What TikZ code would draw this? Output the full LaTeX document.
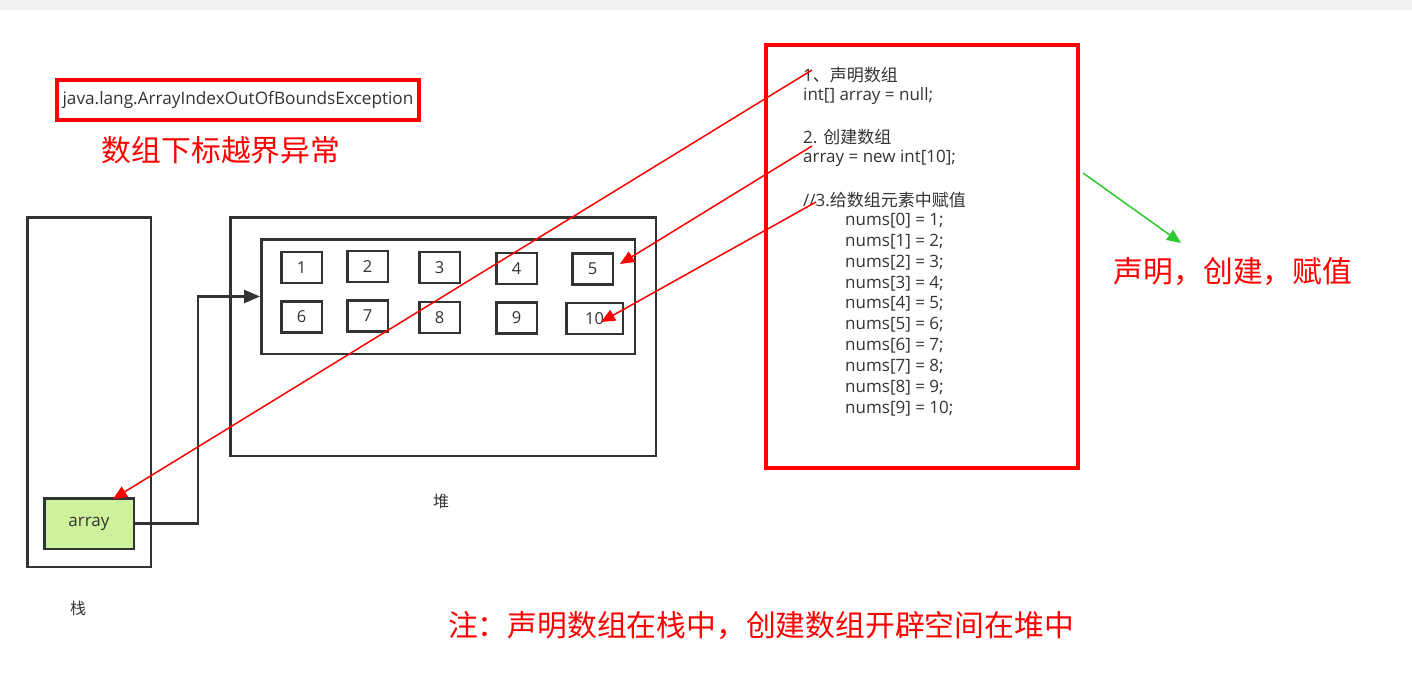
\documentclass[tikz,border=0pt]{standalone}
\usepackage{fontspec}
\setmainfont{Open Sans}
\newfontfamily\cjk{Noto Sans CJK SC}
\usetikzlibrary{arrows.meta}
\definecolor{dk}{HTML}{333333}
\definecolor{gfill}{HTML}{CDF29B}
\definecolor{garrow}{HTML}{2DC82D}
\definecolor{strip}{HTML}{F1F1F1}
\begin{document}
\begin{tikzpicture}[x=1pt,y=-1pt,
  box/.style={draw=dk,line width=2.5pt,inner sep=0pt},
  cell/.style={box,minimum width=40.5pt,minimum height=31pt,text=dk,font=\fontsize{16.5}{19}\selectfont},
  redbox/.style={draw=red,line width=4pt,inner sep=0pt},
  redarrow/.style={red,line width=1.5pt,-{Triangle[length=14pt,width=12pt]}},
  codeline/.style={anchor=west,inner sep=0pt,text=dk,font=\fontsize{17}{20}\selectfont},
  redtext/.style={text=red,inner sep=0pt,font=\cjk\fontsize{29.8}{32}\selectfont},
  small/.style={text=dk,inner sep=0pt,font=\cjk\fontsize{16}{18}\selectfont}]
\useasboundingbox (0,0) rectangle (1412,698);
\fill[strip] (0,0) rectangle (1412,10);

% exception
\node[redbox,minimum width=362pt,minimum height=40pt,text=dk,font=\fontsize{17.2}{20}\selectfont] (exc) at (238,100) {java.lang.ArrayIndexOutOfBoundsException};
\node[redtext] (exctitle) at (221,150) {数组下标越界异常};

% stack
\node[box,minimum width=123.5pt,minimum height=349.5pt] (stack) at (89,392) {};
\node[box,fill=gfill,minimum width=89.5pt,minimum height=50.5pt,text=dk,font=\fontsize{17}{20}\selectfont] (array) at (89,523.5) {array};
\node[small] (stacklbl) at (78,608) {栈};

% heap
\node[box,minimum width=425.5pt,minimum height=238.5pt] (heap) at (443,336.5) {};
\node[box,minimum width=373.5pt,minimum height=114.5pt] (inner) at (448,296.5) {};
\node[small] (heaplbl) at (441,501) {堆};
\node[cell] (c1) at (301.5,267.5) {1};
\node[cell] (c2) at (367.5,266.5) {2};
\node[cell] (c3) at (439.5,267.5) {3};
\node[cell] (c4) at (516.5,268.5) {4};
\node[cell] (c5) at (592.5,269) {5};
\node[cell] (c6) at (301.5,317) {6};
\node[cell] (c7) at (367.5,316) {7};
\node[cell] (c8) at (439.5,317.5) {8};
\node[cell] (c9) at (516.5,318) {9};
\node[cell,minimum width=56.5pt] (c10) at (594.5,318.5) {10};

% reference arrow stack -> heap
\draw[dk,line width=2.5pt,-{Triangle[length=16pt,width=13pt]}] (array.east) -- (198,523.5) |- (inner.west);

% code box
\node[redbox,minimum width=312pt,minimum height=423pt] (code) at (922,256.5) {};
\node[codeline] (l1) at (803,75) {1{\cjk 、声明数组}};
\node[codeline] (l2) at (803,96) {int[] array = null;};
\node[codeline] (l3) at (803,137) {2. {\cjk 创建数组}};
\node[codeline] (l4) at (803,158) {array = new int[10];};
\node[codeline] (l5) at (803,200) {//3.{\cjk 给数组元素中赋值}};
\foreach \i [evaluate=\i as \yy using 221+20.8*\i, evaluate=\i as \v using int(\i+1)] in {0,...,9}
  \node[codeline] (n\i) at (845,\yy) {nums[\i] = \v;};

% red arrows
\coordinate (s1) at (812,70);
\coordinate (s2) at (812,146);
\coordinate (s3) at (816,202);
\coordinate (e1) at (113,499);
\coordinate (e2) at (620,264);
\coordinate (e3) at (601,322);
\draw[redarrow] (s1) -- (e1);
\draw[redarrow] (s2) -- (e2);
\draw[redarrow] (s3) -- (e3);

% green arrow
\coordinate (g1) at (1083,173);
\coordinate (g2) at (1181,243);
\draw[garrow,line width=1.5pt,-{Triangle[length=14pt,width=12pt]}] (g1) -- (g2);
\node[redtext] (summary) at (1233,272) {声明，创建，赋值};

\node[redtext] (note) at (761,625) {注：声明数组在栈中，创建数组开辟空间在堆中};
\end{tikzpicture}
\end{document}
